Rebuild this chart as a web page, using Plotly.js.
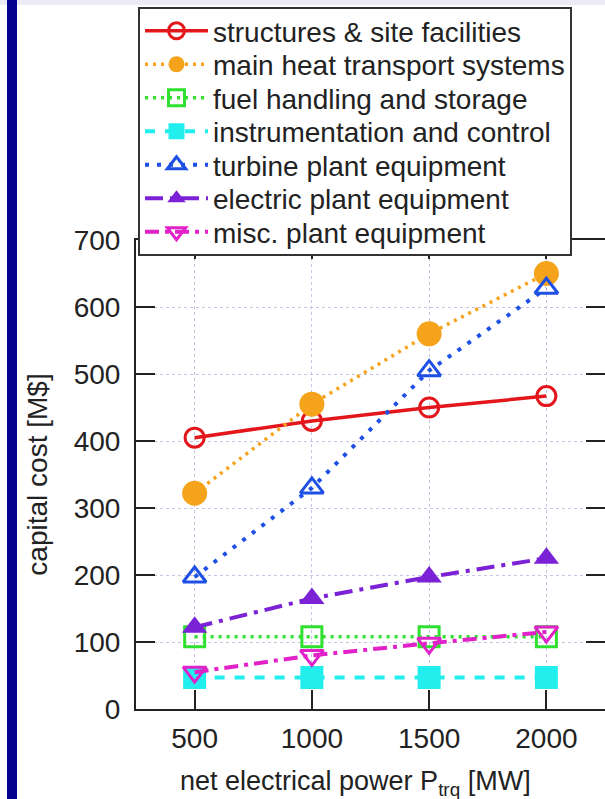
<!DOCTYPE html>
<html>
<head>
<meta charset="utf-8">
<script src="https://cdn.plot.ly/plotly-3.0.1.min.js"></script>
<style>html,body{margin:0;padding:0;background:#fff;}#chart{width:605px;height:799px;}</style>
</head>
<body>
<div id="chart"></div>
<script>
// x values: net electrical power [MW]
const power = [500, 1000, 1500, 2000];
// capital cost [M$] per category
const structures = [405, 430, 450, 467];
const mainHeat = [322, 455, 560, 650];
const fuelHandling = [108, 108, 108, 108];
const instrumentation = [47, 47, 47, 47];
const turbine = [197, 330, 505, 628];
const electric = [122, 165, 197, 225];
const misc = [55, 80, 98, 115];

const names = [
  "structures & site facilities",
  "main heat transport systems",
  "fuel handling and storage",
  "instrumentation and control",
  "turbine plant equipment",
  "electric plant equipment",
  "misc. plant equipment"
];
const xTicks = [500, 1000, 1500, 2000];
const yTicks = [0, 100, 200, 300, 400, 500, 600, 700];
const xTitle = "net electrical power P<sub>trq</sub> [MW]";
const yTitle = "capital cost [M$]";

const traces = [
  {y: structures, name: names[0],
   line: {color: "#e3161c", width: 3.5, dash: "solid"},
   marker: {symbol: "circle-open", size: 19, color: "#e3161c", line: {width: 3}}},
  {y: mainHeat, name: names[1],
   line: {color: "#f5a31a", width: 3.5, dash: "3px,5px"},
   marker: {symbol: "circle", size: 25, color: "#f5a31a"}},
  {y: fuelHandling, name: names[2],
   line: {color: "#2fe02f", width: 3.5, dash: "3px,5px"},
   marker: {symbol: "square-open", size: 20, color: "#2fe02f", line: {width: 3}}},
  {y: instrumentation, name: names[3],
   line: {color: "#22eeee", width: 4, dash: "10px,10px"},
   marker: {symbol: "square", size: 23, color: "#22eeee"}},
  {y: turbine, name: names[4],
   line: {color: "#1e50e6", width: 4, dash: "4px,8px"},
   marker: {symbol: "triangle-up-open", size: 20, color: "#1e50e6", line: {width: 3}}},
  {y: electric, name: names[5],
   line: {color: "#7b22d6", width: 4, dash: "18px,7px,4px,7px"},
   marker: {symbol: "triangle-up", size: 22, color: "#7b22d6"}},
  {y: misc, name: names[6],
   line: {color: "#e022c8", width: 4, dash: "14px,6px,4px,6px"},
   marker: {symbol: "triangle-down-open", size: 20, color: "#e022c8", line: {width: 3}}}
].map(t => Object.assign({x: power, type: "scatter", mode: "lines+markers"}, t));

const W = 605, H = 799, L = 136, R = 0, T = 240, B = 90;
const pw = W - L - R, ph = H - T - B;
const px = v => (v - L) / pw;
const py = v => (H - B - v) / ph;
const LEGEND_ROW = 33.5;

const layout = {
  width: W, height: H,
  margin: {l: L, r: R, t: T, b: B, pad: 0},
  paper_bgcolor: "#ffffff",
  plot_bgcolor: "#ffffff",
  font: {family: "Liberation Sans, Arial, sans-serif", size: 28, color: "#222"},
  showlegend: true,
  legend: {
    x: px(138), y: py(7), xanchor: "left", yanchor: "top",
    bgcolor: "#ffffff", bordercolor: "#333", borderwidth: 2,
    font: {size: 28, color: "#222"},
    tracegroupgap: 0, itemsizing: "trace", itemwidth: 63
  },
  xaxis: {
    range: [250, 2250], tickvals: xTicks, ticktext: xTicks.map(String),
    showline: true, linecolor: "#222", linewidth: 2, mirror: "ticks",
    ticks: "inside", ticklen: 19, tickwidth: 2, tickcolor: "#222",
    showgrid: true, gridcolor: "#c4c4e6", griddash: "dot", gridwidth: 1,
    zeroline: false, ticklabelstandoff: 3,
    tickfont: {size: 28}
  },
  yaxis: {
    range: [0, 700], tickvals: yTicks, ticktext: yTicks.map(String),
    showline: true, linecolor: "#222", linewidth: 2, mirror: "ticks",
    ticks: "inside", ticklen: 19, tickwidth: 2, tickcolor: "#222",
    showgrid: true, gridcolor: "#c4c4e6", griddash: "dot", gridwidth: 1,
    zeroline: false, ticklabelstandoff: 8,
    tickfont: {size: 28},
    title: {text: yTitle, font: {size: 28}, standoff: 18}
  },
  annotations: [
    {text: xTitle, xref: "paper", yref: "paper", x: px(355), y: py(783),
     xanchor: "center", yanchor: "middle", showarrow: false, font: {size: 27, color: "#222"}}
  ],
  shapes: [
    {type: "rect", xref: "paper", yref: "paper", layer: "below",
     x0: px(0), x1: px(W), y0: py(0), y1: py(5), fillcolor: "#ebebf8", line: {width: 0}},
    {type: "rect", xref: "paper", yref: "paper", layer: "below",
     x0: px(7), x1: px(17), y0: py(H), y1: py(0), fillcolor: "#02028e", line: {width: 0}}
  ]
};

Plotly.newPlot("chart", traces, layout, {displayModeBar: false, staticPlot: true}).then(gd => {
  // tighten legend row spacing to match the reference
  const items = gd.querySelectorAll(".legend .traces");
  if (items.length < 2) return;
  const parse = el => {
    const m = /translate\(\s*([-\d.e]+)[ ,]+([-\d.e]+)/.exec(el.getAttribute("transform") || "");
    return m ? [parseFloat(m[1]), parseFloat(m[2])] : null;
  };
  const p0 = parse(items[0]), p1 = parse(items[1]);
  if (!p0 || !p1) return;
  const d = (p1[1] - p0[1]) - LEGEND_ROW;
  items.forEach((el, i) => {
    const p = parse(el);
    el.setAttribute("transform", "translate(" + p[0] + "," + (p0[1] - d / 2 + i * LEGEND_ROW) + ")");
  });
  const bg = gd.querySelector(".legend rect.bg");
  if (bg) bg.setAttribute("height", parseFloat(bg.getAttribute("height")) - items.length * d);
});
</script>
</body>
</html>
